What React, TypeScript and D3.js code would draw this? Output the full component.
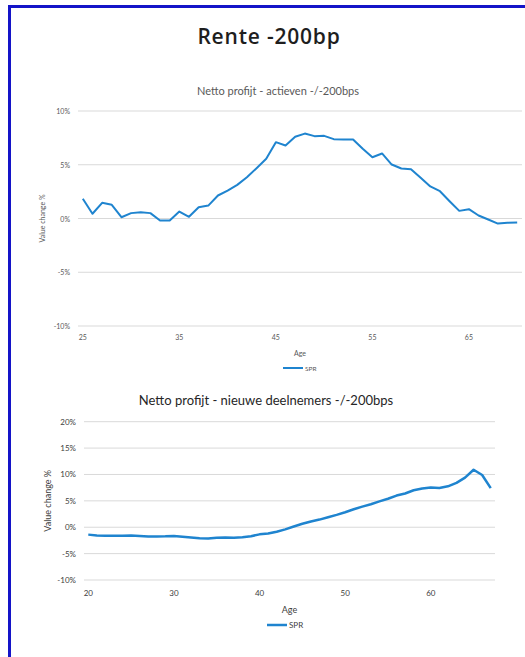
import React from "react";
import * as d3 from "d3";

const ages1: number[] = d3.range(25, 71);
const values1: number[] = [
  1.83, 0.44, 1.46, 1.27, 0.12, 0.5, 0.59, 0.5, -0.19, -0.19,
  0.65, 0.16, 1.05, 1.2, 2.14, 2.6, 3.13, 3.84, 4.68, 5.55,
  7.1, 6.79, 7.6, 7.9, 7.66, 7.69, 7.38, 7.35, 7.35, 6.48,
  5.7, 6.05, 5.02, 4.65, 4.59, 3.78, 2.98, 2.54, 1.61, 0.71,
  0.87, 0.28, -0.09, -0.47, -0.4, -0.38,
];
const xTicks1: number[] = [25, 35, 45, 55, 65];
const yTicks1: number[] = [-10, -5, 0, 5, 10];

const ages2: number[] = d3.range(20, 68);
const values2: number[] = [
  -1.4, -1.55, -1.62, -1.6, -1.6, -1.58, -1.65, -1.75, -1.75, -1.72,
  -1.65, -1.8, -1.95, -2.1, -2.15, -2.0, -1.95, -2.0, -1.9, -1.7,
  -1.35, -1.2, -0.85, -0.4, 0.15, 0.65, 1.1, 1.45, 1.9, 2.35,
  2.85, 3.4, 3.9, 4.35, 4.9, 5.4, 6.0, 6.4, 7.0, 7.35,
  7.55, 7.45, 7.75, 8.4, 9.4, 10.9, 9.9, 7.4,
];
const xTicks2: number[] = [20, 30, 40, 50, 60];
const yTicks2: number[] = [-10, -5, 0, 5, 10, 15, 20];

const LINE = "#1f84cf";
const GRID = "#d9d9d9";
const FONT = "Lato, 'Open Sans', sans-serif";

type ChartProps = {
  ages: number[];
  values: number[];
  xTicks: number[];
  yTicks: number[];
  left: number;
  right: number;
  top: number;
  bottom: number;
  title: string;
  titleY: number;
  titleX: number;
  titleSize: number;
  titleColor: string;
  tickSize: number;
  tickColor: string;
  labelRight: number;
  xLabelY: number;
  ageY: number;
  ageSize: number;
  yTitleX: number;
  legendY: number;
  legendX: number;
  legendSize: number;
  lineWidth: number;
};

function Chart(p: ChartProps) {
  const x = d3
    .scaleBand<number>()
    .domain(p.ages)
    .range([p.left, p.right]);
  const y = d3
    .scaleLinear()
    .domain([d3.min(p.yTicks)!, d3.max(p.yTicks)!])
    .range([p.bottom, p.top]);
  const cx = (a: number) => (x(a) as number) + x.bandwidth() / 2;
  const line = d3
    .line<number>()
    .x((_, i) => cx(p.ages[i]))
    .y((v) => y(v));
  const midY = (p.top + p.bottom) / 2;
  return (
    <g fontFamily={FONT}>
      <text
        x={p.titleX}
        y={p.titleY}
        textAnchor="middle"
        dominantBaseline="central"
        fontSize={p.titleSize}
        fill={p.titleColor}
      >
        {p.title}
      </text>
      {p.yTicks.map((t) => (
        <g key={t}>
          <line
            x1={p.left}
            x2={p.right}
            y1={y(t)}
            y2={y(t)}
            stroke={GRID}
            strokeWidth={1}
          />
          <text
            x={p.labelRight}
            y={y(t)}
            textAnchor="end"
            dominantBaseline="central"
            fontSize={p.tickSize}
            fill={p.tickColor}
          >
            {t + "%"}
          </text>
        </g>
      ))}
      {p.xTicks.map((t) => (
        <text
          key={t}
          x={cx(t)}
          y={p.xLabelY}
          textAnchor="middle"
          dominantBaseline="central"
          fontSize={p.tickSize}
          fill={p.tickColor}
        >
          {t}
        </text>
      ))}
      <path
        d={line(p.values) || ""}
        fill="none"
        stroke={LINE}
        strokeWidth={p.lineWidth}
        strokeLinejoin="round"
      />
      <text
        transform={`translate(${p.yTitleX},${midY}) rotate(-90)`}
        textAnchor="middle"
        dominantBaseline="central"
        fontSize={p.ageSize}
        fill={p.tickColor}
      >
        Value change %
      </text>
      <text
        x={(p.left + p.right) / 2}
        y={p.ageY}
        textAnchor="middle"
        dominantBaseline="central"
        fontSize={p.ageSize}
        fill={p.tickColor}
      >
        Age
      </text>
      <line
        x1={p.legendX}
        x2={p.legendX + 20}
        y1={p.legendY}
        y2={p.legendY}
        stroke={LINE}
        strokeWidth={p.lineWidth}
      />
      <text
        x={p.legendX + 22}
        y={p.legendY}
        dominantBaseline="central"
        fontSize={p.legendSize}
        fill={p.tickColor}
      >
        SPR
      </text>
    </g>
  );
}

export default function App() {
  return (
    <svg
      width={525}
      height={657}
      style={{ position: "absolute", left: 0, top: 0, background: "#fff" }}
    >
      <rect x={0} y={0} width={525} height={657} fill="#fff" />
      <rect x={8} y={5} width={517} height={3} fill="#1414c8" />
      <rect x={8} y={5} width={3} height={652} fill="#1414c8" />
      <text
        x={269}
        y={36}
        textAnchor="middle"
        dominantBaseline="central"
        fontFamily="'Open Sans', sans-serif"
        fontWeight={600}
        fontSize={21}
        letterSpacing={0.8}
        fill="#1e1e1e"
      >
        Rente -200bp
      </text>
      <Chart
        ages={ages1}
        values={values1}
        xTicks={xTicks1}
        yTicks={yTicks1}
        left={78}
        right={522}
        top={111}
        bottom={326}
        title="Netto profijt - actieven -/-200bps"
        titleX={278}
        titleY={90}
        titleSize={11}
        titleColor="#595959"
        tickSize={7}
        tickColor="#595959"
        labelRight={70}
        xLabelY={337}
        ageY={353}
        ageSize={7}
        yTitleX={42}
        legendY={368}
        legendX={283}
        legendSize={6.5}
        lineWidth={2}
      />
      <Chart
        ages={ages2}
        values={values2}
        xTicks={xTicks2}
        yTicks={yTicks2}
        left={84}
        right={495}
        top={421.7}
        bottom={580}
        title="Netto profijt - nieuwe deelnemers -/-200bps"
        titleX={266}
        titleY={400}
        titleSize={13}
        titleColor="#262626"
        tickSize={8}
        tickColor="#404040"
        labelRight={76}
        xLabelY={593}
        ageY={609}
        ageSize={9}
        yTitleX={47}
        legendY={625}
        legendX={267}
        legendSize={8}
        lineWidth={2.5}
      />
    </svg>
  );
}
